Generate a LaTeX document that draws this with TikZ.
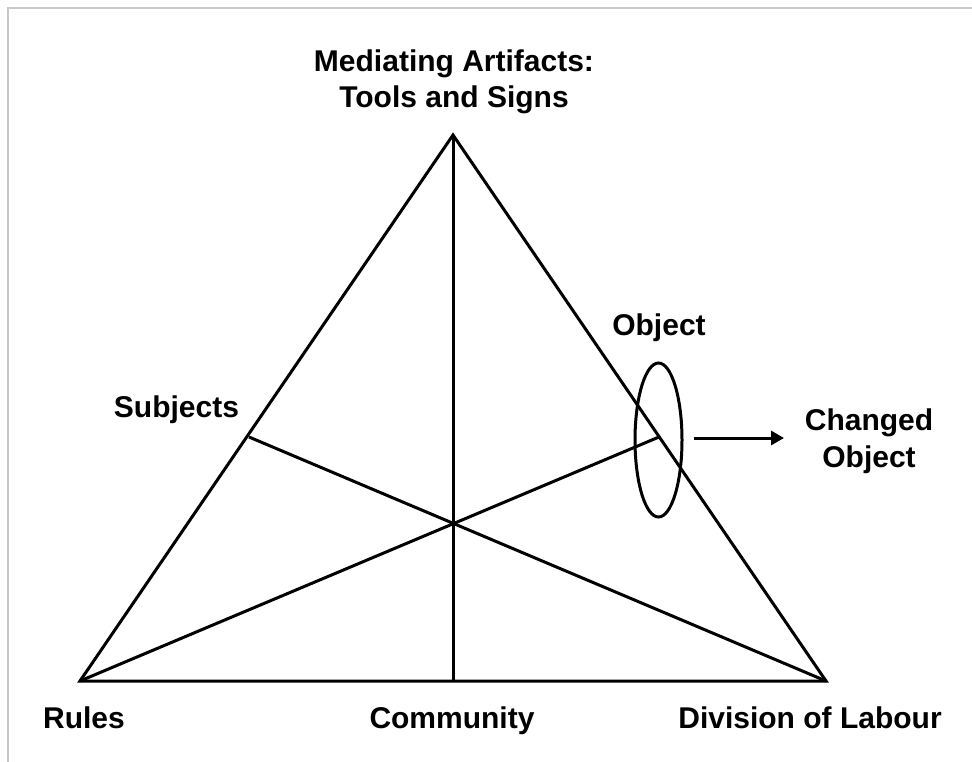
\documentclass[tikz,border=0pt]{standalone}
\usepackage{fontspec}
\setmainfont{Liberation Sans}
\usepackage{xcolor}
\usepackage{tikz}
\usetikzlibrary{positioning,calc,shapes.geometric,arrows.meta}
\definecolor{FrameGray}{RGB}{200,200,200}

\begin{document}
\begin{tikzpicture}[x=1pt, y=-1pt,
                % Style cho các nhãn
                lbl/.style={font=\fontsize{30}{36.5}\selectfont\bfseries, text=black, inner sep=0pt, anchor=base, align=center},
                % Style cạnh
                edge/.style={draw=black, line width=3pt, line join=miter},
                arrowedge/.style={-{Triangle[length=13pt, width=14pt]}, draw=black, line width=3pt},
                % Style khung
                frameline/.style={draw=FrameGray, line width=2pt}
            ]
                \useasboundingbox (0,0) rectangle (972,762);

                % --- KHUNG ---
                \coordinate (fr1) at (972,8);
                \coordinate (fr2) at (8,8);
                \coordinate (fr3) at (8,762);
                \draw[frameline] (fr1) -- (fr2) -- (fr3);

                % --- ĐỈNH TAM GIÁC ---
                \coordinate (apex) at (453,135);
                \coordinate (rules) at (80,681);
                \coordinate (labour) at (826,681);
                \coordinate (comm) at (453,681);
                \coordinate (subj) at (249,437);
                \coordinate (obj) at (659,437);

                % --- VẼ CẠNH ---
                \draw[edge] (apex) -- (rules) -- (labour) -- cycle;
                \draw[edge] (apex) -- (comm);
                \draw[edge] (subj) -- (labour);
                \draw[edge] (rules) -- (obj);

                % Ellipse Object + mũi tên
                \node[ellipse, draw=black, line width=3pt, minimum width=47pt, minimum height=154pt, inner sep=0pt] (objell) at (658.5,440) {};
                \coordinate (chg) at (784,438);
                \draw[arrowedge] ([xshift=10pt]objell.east |- chg) -- (chg);

                % --- NHÃN (LABELS) ---
                % nhãn hai dòng: base = dòng cuối
                \node[lbl] (tools) at (454,108) {Mediating Artifacts:\\Tools and Signs};
                \node[lbl] (subjects) at (176.5,417) {Subjects};
                \node[lbl] (object) at (659,335) {Object};
                \node[lbl] (changed) at (869,467) {Changed\\Object};
                \node[lbl] (rulesl) at (84,728) {Rules};
                \node[lbl] (community) at (452,728) {Community};
                \node[lbl] (division) at (810,728) {Division of Labour};

            \end{tikzpicture}
\end{document}
